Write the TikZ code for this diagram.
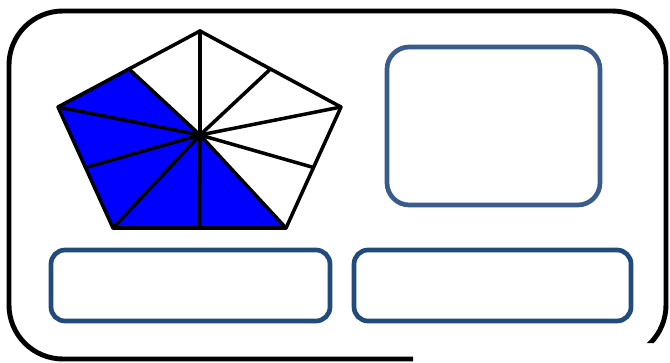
\documentclass[tikz,border=0pt]{standalone}
\usepackage{tikz}
\usetikzlibrary{positioning,calc}
\definecolor{PieBlue}{RGB}{0,0,255}
\definecolor{CardBlue}{RGB}{58,92,140}
\definecolor{CardNavy}{RGB}{33,75,125}
\tikzset{
  frame/.style={draw=black,line width=4.2pt,rounded corners=46pt},
  spoke/.style={draw=black,line width=3pt,line cap=round},
  card/.style={draw=CardNavy,fill=white,line width=4pt,rounded corners=12pt,inner sep=0pt},
}
\tikzset{bigcard/.style={card,draw=CardBlue,rounded corners=19pt}}

\begin{document}
\begin{tikzpicture}[x=0.03cm,y=-0.03cm]
\useasboundingbox (0,0) rectangle (670,363);
% outer frame, cut at the lower right
\begin{scope}
\clip (-5,-5)--(675,-5)--(675,343)--(413,343)--(413,368)--(-5,368)--cycle;
\draw[frame] (9,11) rectangle (666,359);
\end{scope}
% pentagon
\coordinate (T) at (200,31);\coordinate (R) at (341,107);\coordinate (BR) at (286,228);
\coordinate (BL) at (113,228);\coordinate (L) at (58,107);\coordinate (O) at (200,135);
\coordinate (mTL) at ($(T)!0.5!(L)$);\coordinate (mTR) at ($(T)!0.5!(R)$);
\coordinate (mR) at ($(R)!0.5!(BR)$);\coordinate (mB) at ($(BR)!0.5!(BL)$);
\coordinate (mL) at ($(L)!0.5!(BL)$);
\fill[PieBlue] (O)--(mTL)--(L)--(mL)--(BL)--(mB)--(BR)--cycle;
\foreach \p in {T,mTR,R,mR,BR,mB,BL,mL,L,mTL}{\draw[spoke] (O)--(\p);}
\draw[spoke,line join=round] (T)--(R)--(BR)--(BL)--(L)--cycle;
% answer boxes
\node[bigcard,minimum width=6.39cm,minimum height=4.74cm] (answer) at (493.5,126){};
\node[card,minimum width=8.37cm,minimum height=2.13cm] (left) at (190.5,285.5){};
\node[card,minimum width=8.31cm,minimum height=2.13cm,right=0.58cm of left] (right){};
\end{tikzpicture}
\end{document}
